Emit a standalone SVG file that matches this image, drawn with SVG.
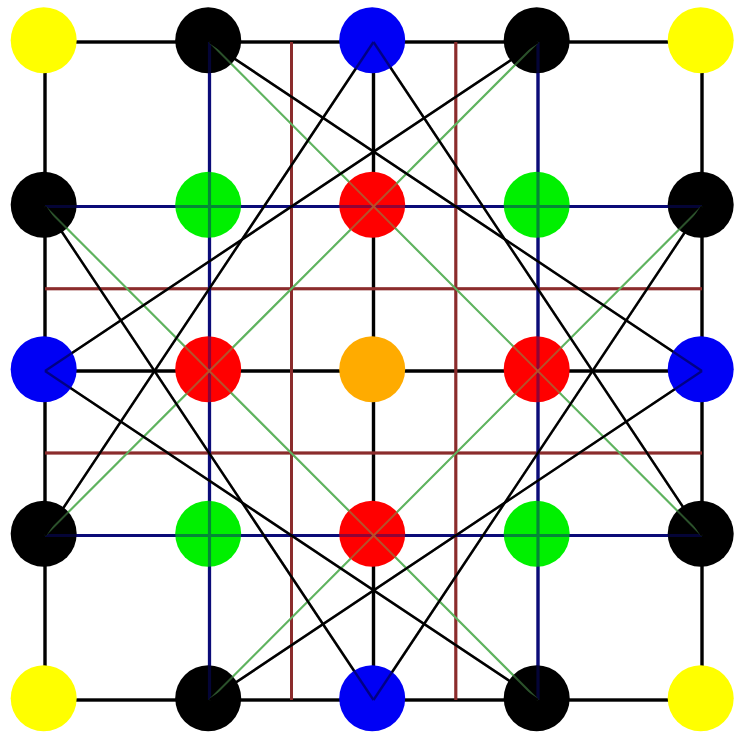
<svg xmlns="http://www.w3.org/2000/svg" xmlns:xlink="http://www.w3.org/1999/xlink" width="736" height="733" viewBox="0 0 736 733">
  <style>
    .frame { stroke: #000000; stroke-width: 3.4; fill: none; stroke-linecap: butt; }
    .blue { stroke: #0b0b78; stroke-width: 3.2; fill: none; }
    .red { stroke: #8b2c2c; stroke-width: 3; fill: none; }
    .green { stroke: #5fb35f; stroke-width: 2; fill: none; }
    .knight { stroke: #000000; stroke-width: 2.4; fill: none; }
    .n-yellow { fill: #ffff00; }
    .n-black { fill: #000000; }
    .n-blue { fill: #0000f5; }
    .n-green { fill: #00f000; }
    .n-red { fill: #ff0000; }
    .n-orange { fill: #ffab00; }
  </style>
  <defs>
    <g id="links">
      <line class="red" x1="291.5" y1="42" x2="291.5" y2="700"/>
      <line class="red" x1="455.8" y1="42" x2="455.8" y2="700"/>
      <line class="red" x1="45" y1="288.7" x2="702" y2="288.7"/>
      <line class="red" x1="45" y1="453" x2="702" y2="453"/>
      <line class="blue" x1="209.5" y1="42" x2="209.5" y2="700"/>
      <line class="blue" x1="538" y1="42" x2="538" y2="700"/>
      <line class="blue" x1="45" y1="206.5" x2="702" y2="206.5"/>
      <line class="blue" x1="45" y1="535.5" x2="702" y2="535.5"/>
      <line class="green" x1="209.5" y1="42" x2="702" y2="535.5"/>
      <line class="green" x1="538" y1="42" x2="45" y2="535.5"/>
      <line class="green" x1="45" y1="206.5" x2="538" y2="700"/>
      <line class="green" x1="702" y1="206.5" x2="209.5" y2="700"/>
      <line class="knight" x1="373.5" y1="42" x2="45" y2="535.5"/>
      <line class="knight" x1="373.5" y1="42" x2="702" y2="535.5"/>
      <line class="knight" x1="45" y1="371" x2="538" y2="42"/>
      <line class="knight" x1="45" y1="371" x2="538" y2="700"/>
      <line class="knight" x1="702" y1="371" x2="209.5" y2="42"/>
      <line class="knight" x1="702" y1="371" x2="209.5" y2="700"/>
      <line class="knight" x1="373.5" y1="700" x2="45" y2="206.5"/>
      <line class="knight" x1="373.5" y1="700" x2="702" y2="206.5"/>
    </g>
  </defs>
  <rect width="736" height="733" fill="#ffffff"/>
  <g id="connectors">
    <rect class="frame" x="45" y="42" width="657" height="658"/>
    <line class="frame" x1="373.5" y1="42" x2="373.5" y2="700"/>
    <line class="frame" x1="45" y1="371" x2="702" y2="371"/>
    <use href="#links" xlink:href="#links"/>
  </g>
  <g id="nodes">
    <g id="n00"><circle class="n-yellow" cx="43.7" cy="40.3" r="33"/></g>
    <g id="n01"><circle class="n-black" cx="208.2" cy="40.3" r="33"/></g>
    <g id="n02"><circle class="n-blue" cx="372.2" cy="40.3" r="33"/></g>
    <g id="n03"><circle class="n-black" cx="536.7" cy="40.3" r="33"/></g>
    <g id="n04"><circle class="n-yellow" cx="700.7" cy="40.3" r="33"/></g>
    <g id="n10"><circle class="n-black" cx="43.7" cy="204.8" r="33"/></g>
    <g id="n11"><circle class="n-green" cx="208.2" cy="204.8" r="33"/></g>
    <g id="n12"><circle class="n-red" cx="372.2" cy="204.8" r="33"/></g>
    <g id="n13"><circle class="n-green" cx="536.7" cy="204.8" r="33"/></g>
    <g id="n14"><circle class="n-black" cx="700.7" cy="204.8" r="33"/></g>
    <g id="n20"><circle class="n-blue" cx="43.7" cy="369.3" r="33"/></g>
    <g id="n21"><circle class="n-red" cx="208.2" cy="369.3" r="33"/></g>
    <g id="n22"><circle class="n-orange" cx="372.2" cy="369.3" r="33"/></g>
    <g id="n23"><circle class="n-red" cx="536.7" cy="369.3" r="33"/></g>
    <g id="n24"><circle class="n-blue" cx="700.7" cy="369.3" r="33"/></g>
    <g id="n30"><circle class="n-black" cx="43.7" cy="533.8" r="33"/></g>
    <g id="n31"><circle class="n-green" cx="208.2" cy="533.8" r="33"/></g>
    <g id="n32"><circle class="n-red" cx="372.2" cy="533.8" r="33"/></g>
    <g id="n33"><circle class="n-green" cx="536.7" cy="533.8" r="33"/></g>
    <g id="n34"><circle class="n-black" cx="700.7" cy="533.8" r="33"/></g>
    <g id="n40"><circle class="n-yellow" cx="43.7" cy="698.3" r="33"/></g>
    <g id="n41"><circle class="n-black" cx="208.2" cy="698.3" r="33"/></g>
    <g id="n42"><circle class="n-blue" cx="372.2" cy="698.3" r="33"/></g>
    <g id="n43"><circle class="n-black" cx="536.7" cy="698.3" r="33"/></g>
    <g id="n44"><circle class="n-yellow" cx="700.7" cy="698.3" r="33"/></g>
  </g>
  <g id="connectors-overlay" opacity="0.45">
    <use href="#links" xlink:href="#links"/>
  </g>
</svg>
